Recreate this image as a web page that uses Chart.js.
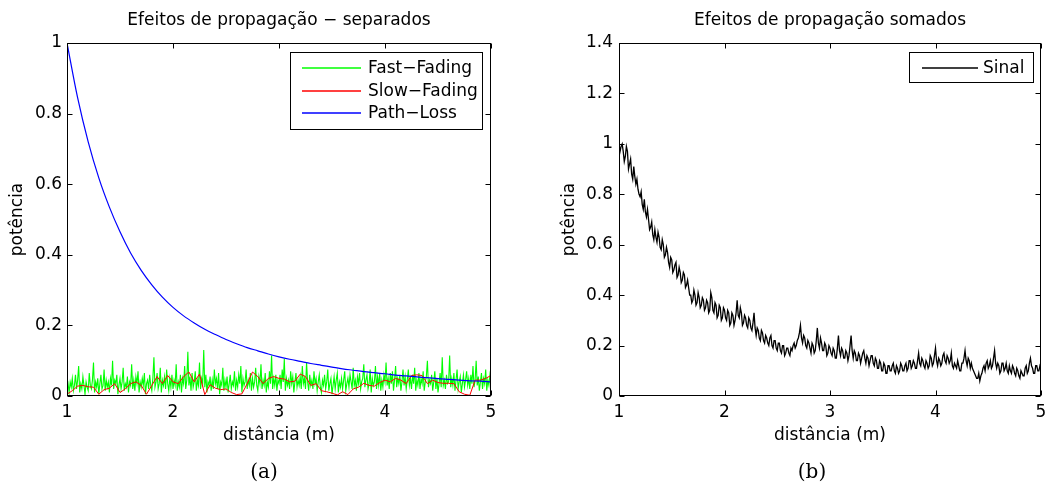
<!DOCTYPE html>
<html><head><meta charset="utf-8">
<script src="https://cdn.jsdelivr.net/npm/chart.js@4.4.0/dist/chart.umd.min.js"></script>
<style>
html,body{margin:0;padding:0;background:#fff;width:1045px;height:489px;overflow:hidden;position:relative}
canvas{position:absolute;top:0}
#c1{left:0}
#c2{left:522px}
.cap{position:absolute;top:459px;width:300px;text-align:center;font:20px 'DejaVu Serif',serif;line-height:24px;color:#000}
</style></head><body>
<canvas id="c1" width="522" height="489"></canvas>
<canvas id="c2" width="523" height="489"></canvas>
<div class="cap" style="left:114px">(a)</div>
<div class="cap" style="left:662px">(b)</div>
<script>
// ---------- data ----------
const distStart = 1;
const xTickValues = [1, 2, 3, 4, 5];
const xTickLabels = ['1', '2', '3', '4', '5'];
const yTickValuesA = [0, 0.2, 0.4, 0.6, 0.8, 1];
const yTickLabelsA = ['0', '0.2', '0.4', '0.6', '0.8', '1'];
const yTickValuesB = [0, 0.2, 0.4, 0.6, 0.8, 1, 1.2, 1.4];
const yTickLabelsB = ['0', '0.2', '0.4', '0.6', '0.8', '1', '1.2', '1.4'];

const fastStep = 0.01;
const fastFading = [
  0.02,0.035,0.01,0.04,0.025,0.05,0.015,0.03,0.06,0.02,0.045,0.085,0.01,0.035,0.02,0.055,0.03,0.005,0.04,0.025,
  0.015,0.065,0.03,0.02,0.045,0.095,0.01,0.04,0.025,0.05,0.005,0.035,0.06,0.02,0.03,0.075,0.015,0.045,0.025,0.04,
  0.01,0.05,0.03,0.1,0.02,0.045,0.035,0.06,0.005,0.03,0.05,0.02,0.04,0.08,0.015,0.035,0.025,0.055,0.01,0.04,
  0.03,0.09,0.02,0.045,0.015,0.055,0.035,0.07,0.01,0.04,0.025,0.05,0.03,0.065,0.005,0.035,0.045,0.02,0.06,0.03,
  0.015,0.05,0.11,0.025,0.04,0.065,0.02,0.035,0.08,0.01,0.045,0.03,0.055,0.02,0.075,0.035,0.015,0.05,0.025,0.06,
  0.02,0.045,0.03,0.09,0.015,0.04,0.025,0.06,0.01,0.05,0.035,0.085,0.02,0.045,0.125,0.03,0.055,0.015,0.065,0.025,
  0.04,0.07,0.015,0.045,0.03,0.095,0.02,0.05,0.035,0.13,0.025,0.06,0.01,0.04,0.03,0.055,0.015,0.045,0.02,0.075,
  0.035,0.05,0.02,0.065,0.005,0.04,0.03,0.08,0.015,0.045,0.025,0.055,0.01,0.035,0.06,0.02,0.04,0.03,0.07,0.015,
  0.045,0.025,0.06,0.035,0.085,0.01,0.05,0.03,0.04,0.075,0.02,0.045,0.03,0.065,0.015,0.05,0.025,0.04,0.08,0.03,
  0.015,0.055,0.035,0.09,0.02,0.045,0.03,0.065,0.01,0.04,0.025,0.07,0.035,0.115,0.02,0.05,0.03,0.06,0.015,0.045,
  0.035,0.06,0.02,0.075,0.04,0.105,0.015,0.05,0.03,0.045,0.02,0.07,0.035,0.055,0.01,0.04,0.065,0.025,0.045,0.03,
  0.055,0.02,0.085,0.035,0.05,0.02,0.095,0.04,0.015,0.06,0.03,0.045,0.02,0.07,0.035,0.05,0.015,0.04,0.06,0.025,
  0.01,0.045,0.03,0.06,0.02,0.04,0.075,0.015,0.035,0.05,0.005,0.03,0.055,0.02,0.045,0.065,0.01,0.04,0.025,0.05,
  0.02,0.045,0.07,0.015,0.035,0.05,0.025,0.06,0.04,0.02,0.08,0.03,0.045,0.015,0.055,0.035,0.065,0.02,0.04,0.05,
  0.09,0.025,0.045,0.06,0.02,0.035,0.075,0.01,0.05,0.03,0.04,0.085,0.02,0.055,0.03,0.065,0.015,0.045,0.025,0.06,
  0.04,0.095,0.03,0.05,0.02,0.065,0.035,0.07,0.015,0.045,0.085,0.025,0.05,0.035,0.06,0.015,0.04,0.075,0.03,0.055,
  0.02,0.045,0.075,0.03,0.05,0.02,0.06,0.035,0.08,0.015,0.045,0.03,0.065,0.02,0.05,0.035,0.07,0.015,0.04,0.055,
  0.1,0.025,0.045,0.035,0.06,0.015,0.04,0.07,0.02,0.05,0.01,0.035,0.065,0.025,0.11,0.03,0.045,0.02,0.06,0.035,
  0.04,0.115,0.025,0.05,0.03,0.065,0.015,0.045,0.075,0.02,0.04,0.055,0.01,0.035,0.06,0.025,0.045,0.07,0.03,0.05,
  0.02,0.06,0.035,0.085,0.025,0.045,0.1,0.03,0.055,0.015,0.04,0.065,0.02,0.05,0.035,0.075,0.015,0.045,0.03,0.06,
  0.04
];

const slowStep = 0.05;
const slowFading = [
  0.005,0.015,0.028,0.030,0.026,0.025,0.005,0.018,0.022,0.035,
  0.010,0.020,0.035,0.040,0.030,0.005,0.030,0.055,0.035,0.058,
  0.040,0.035,0.055,0.068,0.040,0.062,0.004,0.032,0.022,0.018,
  0.020,0.010,0.004,0.006,0.035,0.068,0.055,0.035,0.050,0.055,
  0.050,0.048,0.040,0.042,0.062,0.055,0.030,0.035,0.015,0.012,
  0.008,0.003,0.012,0.004,0.020,0.025,0.036,0.030,0.028,0.038,
  0.045,0.040,0.050,0.045,0.035,0.058,0.060,0.058,0.035,0.045,
  0.038,0.036,0.036,0.035,0.012,0.005,0.002,0.045,0.045,0.050,
  0.058
];

const pathStep = 0.1;
const pathLoss = [
  1.000,0.845,0.720,0.618,0.535,0.465,0.405,0.356,0.315,0.280,
  0.251,0.227,0.207,0.189,0.174,0.160,0.148,0.137,0.128,0.119,
  0.111,0.104,0.098,0.092,0.087,0.082,0.077,0.073,0.069,0.066,
  0.063,0.059,0.057,0.054,0.052,0.049,0.047,0.045,0.043,0.042,
  0.040
];

const sinalStep = 0.01;
const sinal = [
  1.00,0.97,0.99,1.00,0.97,0.93,0.95,0.99,0.97,0.90,0.92,0.94,0.88,0.86,0.91,0.87,0.84,0.86,0.82,0.80,
  0.79,0.81,0.76,0.74,0.78,0.73,0.71,0.74,0.70,0.66,0.67,0.69,0.64,0.62,0.66,0.63,0.61,0.65,0.63,0.59,
  0.58,0.62,0.60,0.55,0.56,0.59,0.57,0.53,0.51,0.55,0.54,0.49,0.50,0.52,0.53,0.47,0.48,0.51,0.49,0.45,
  0.46,0.49,0.48,0.43,0.44,0.46,0.43,0.40,0.40,0.37,0.38,0.42,0.40,0.36,0.37,0.41,0.39,0.35,0.36,0.39,
  0.38,0.34,0.35,0.38,0.37,0.33,0.34,0.41,0.39,0.34,0.33,0.37,0.36,0.31,0.32,0.36,0.35,0.30,0.31,0.35,
  0.34,0.31,0.30,0.34,0.33,0.28,0.29,0.33,0.32,0.28,0.30,0.33,0.38,0.32,0.31,0.35,0.33,0.28,0.29,0.32,
  0.31,0.28,0.27,0.31,0.30,0.27,0.26,0.29,0.33,0.27,0.24,0.27,0.26,0.23,0.22,0.26,0.25,0.22,0.21,0.24,
  0.23,0.21,0.20,0.23,0.24,0.20,0.19,0.22,0.22,0.19,0.18,0.21,0.21,0.18,0.17,0.20,0.20,0.16,0.17,0.19,
  0.19,0.17,0.16,0.19,0.18,0.20,0.21,0.19,0.20,0.22,0.23,0.25,0.28,0.23,0.21,0.24,0.23,0.20,0.19,0.22,
  0.21,0.19,0.17,0.21,0.20,0.17,0.18,0.22,0.27,0.21,0.19,0.23,0.21,0.18,0.18,0.21,0.20,0.16,0.17,0.20,
  0.19,0.17,0.16,0.19,0.18,0.15,0.15,0.19,0.24,0.18,0.16,0.19,0.18,0.15,0.15,0.18,0.17,0.14,0.16,0.20,
  0.24,0.18,0.15,0.18,0.17,0.14,0.14,0.17,0.16,0.13,0.15,0.17,0.18,0.15,0.13,0.16,0.15,0.12,0.14,0.16,
  0.16,0.13,0.12,0.15,0.14,0.11,0.11,0.14,0.13,0.10,0.10,0.13,0.12,0.09,0.09,0.12,0.12,0.10,0.10,0.12,
  0.13,0.10,0.09,0.12,0.11,0.09,0.10,0.13,0.12,0.10,0.10,0.12,0.13,0.10,0.11,0.14,0.14,0.11,0.12,0.14,
  0.13,0.11,0.11,0.14,0.17,0.13,0.12,0.15,0.14,0.12,0.11,0.14,0.13,0.11,0.12,0.16,0.15,0.12,0.13,0.16,
  0.19,0.14,0.12,0.15,0.14,0.12,0.13,0.16,0.17,0.14,0.13,0.16,0.15,0.13,0.14,0.17,0.12,0.11,0.13,0.12,
  0.11,0.14,0.12,0.10,0.10,0.13,0.13,0.15,0.18,0.14,0.12,0.15,0.14,0.11,0.13,0.11,0.10,0.09,0.08,0.07,
  0.07,0.09,0.06,0.08,0.09,0.11,0.12,0.10,0.13,0.14,0.11,0.12,0.14,0.11,0.12,0.15,0.18,0.13,0.11,0.13,
  0.12,0.09,0.10,0.13,0.13,0.10,0.11,0.13,0.10,0.09,0.12,0.10,0.09,0.12,0.11,0.09,0.08,0.11,0.10,0.08,
  0.07,0.10,0.09,0.08,0.08,0.11,0.12,0.09,0.10,0.13,0.15,0.12,0.11,0.09,0.09,0.12,0.12,0.10,0.10,0.12,
  0.11
];

// ---------- helpers ----------
const toXY = (arr, step) => arr.map((v, i) => ({ x: +(distStart + i * step).toFixed(4), y: v }));
const FONT = 'DejaVu Sans';
Chart.defaults.font.family = FONT;
Chart.defaults.font.size = 17;
Chart.defaults.color = '#000';

const frame = {
  id: 'frame',
  afterDatasetsDraw(chart) {
    const { ctx, chartArea: a, scales: { x, y } } = chart;
    const L = Math.round(a.left) + 0.5, R = Math.round(a.right) - 0.5;
    const T = Math.round(a.top) + 0.5, B = Math.round(a.bottom) - 0.5;
    ctx.save();
    ctx.strokeStyle = '#000';
    ctx.lineWidth = 1;
    ctx.strokeRect(L, T, R - L, B - T);
    ctx.beginPath();
    x.ticks.forEach(t => {
      const px = Math.round(x.getPixelForValue(t.value)) + 0.5;
      ctx.moveTo(px, B); ctx.lineTo(px, B - 5);
      ctx.moveTo(px, T); ctx.lineTo(px, T + 5);
    });
    y.ticks.forEach(t => {
      const py = Math.round(y.getPixelForValue(t.value)) + 0.5;
      ctx.moveTo(L, py); ctx.lineTo(L + 5, py);
      ctx.moveTo(R, py); ctx.lineTo(R - 5, py);
    });
    ctx.stroke();
    ctx.restore();
  }
};

function makeLegend(items, o) {
  return {
    id: 'boxLegend',
    afterDraw(chart) {
      const { ctx, chartArea: a } = chart;
      const x0 = Math.round(a.right - o.dr - o.w);
      const y0 = Math.round(a.top + o.dt);
      ctx.save();
      ctx.fillStyle = '#ffffff';
      ctx.fillRect(x0, y0, o.w, o.h);
      ctx.strokeStyle = '#000000';
      ctx.lineWidth = 1;
      ctx.strokeRect(x0 + 0.5, y0 + 0.5, o.w, o.h);
      items.forEach((it, i) => {
        const cy = Math.round(a.top + o.firstRow + i * o.rowH);
        ctx.beginPath();
        ctx.strokeStyle = it.color;
        ctx.lineWidth = 1.6;
        ctx.moveTo(x0 + o.lineX, cy);
        ctx.lineTo(x0 + o.lineX + o.lineLen, cy);
        ctx.stroke();
      });
      ctx.font = '17px "' + FONT + '"';
      ctx.textBaseline = 'middle';
      ctx.textAlign = 'left';
      ctx.fillStyle = '#000000';
      items.forEach((it, i) => {
        const cy = Math.round(a.top + o.firstRow + i * o.rowH) + 0.5;
        ctx.fillText(it.label, x0 + o.textX, cy);
      });
      ctx.restore();
    }
  };
}

function makeOptions(cfg) {
  return {
    responsive: false,
    animation: false,
    devicePixelRatio: 1,
    events: [],
    layout: { padding: { left: 0, top: 0, right: cfg.padRight, bottom: 0 } },
    plugins: {
      legend: { display: false },
      tooltip: { enabled: false },
      title: {
        display: true,
        fullSize: false,
        text: cfg.title,
        font: { size: 17, weight: 'normal', family: FONT },
        color: '#000',
        padding: { top: 10.8, bottom: 11.8 }
      }
    },
    scales: {
      x: {
        type: 'linear',
        min: 1, max: 5,
        afterBuildTicks: s => { s.ticks = xTickValues.map(v => ({ value: v })); },
        afterFit: s => { s.height = 93; s.paddingRight = 0; s.paddingLeft = 0; },
        grid: { display: false, drawTicks: false },
        border: { display: false },
        ticks: { padding: 6, maxRotation: 0, autoSkip: false, callback: (v, i) => xTickLabels[i] },
        title: { display: true, text: 'distância (m)', padding: { top: 0, bottom: 42.8 } }
      },
      y: {
        type: 'linear',
        min: 0, max: cfg.yMax,
        afterBuildTicks: s => { s.ticks = cfg.yTicks.map(v => ({ value: v })); },
        afterFit: s => { s.width = cfg.yWidth; },
        grid: { display: false, drawTicks: false },
        border: { display: false },
        ticks: { padding: cfg.yTickPad, autoSkip: false, callback: (v, i) => cfg.yLabels[i] },
        title: { display: true, text: 'potência', padding: { top: cfg.yTitlePad, bottom: 0 } }
      }
    }
  };
}

const seriesA = [
  { label: 'Fast−Fading', color: '#00ff00' },
  { label: 'Slow−Fading', color: '#ff0000' },
  { label: 'Path−Loss', color: '#0000ff' }
];
const seriesB = [{ label: 'Sinal', color: '#000000' }];

new Chart(document.getElementById('c1'), {
  type: 'line',
  data: {
    datasets: [
      { label: seriesA[0].label, data: toXY(fastFading, fastStep), borderColor: seriesA[0].color, borderWidth: 1.1, pointRadius: 0, tension: 0, order: 3 },
      { label: seriesA[1].label, data: toXY(slowFading, slowStep), borderColor: seriesA[1].color, borderWidth: 1, pointRadius: 0, tension: 0, order: 2 },
      { label: seriesA[2].label, data: toXY(pathLoss, pathStep), borderColor: seriesA[2].color, borderWidth: 1.2, pointRadius: 0, cubicInterpolationMode: 'monotone', order: 1 }
    ]
  },
  options: makeOptions({
    title: 'Efeitos de propagação − separados',
    padRight: 31, yMax: 1, yTicks: yTickValuesA, yLabels: yTickLabelsA, yWidth: 67, yTickPad: 5, yTitlePad: 7.8
  }),
  plugins: [frame, makeLegend(seriesA, { w: 192, h: 77, dr: 9, dt: 9, firstRow: 25, rowH: 22.5, lineX: 12, lineLen: 59, textX: 78 })]
});

new Chart(document.getElementById('c2'), {
  type: 'line',
  data: {
    datasets: [
      { label: seriesB[0].label, data: toXY(sinal, sinalStep), borderColor: seriesB[0].color, borderWidth: 1.3, pointRadius: 0, tension: 0 }
    ]
  },
  options: makeOptions({
    title: 'Efeitos de propagação somados',
    padRight: 4, yMax: 1.4, yTicks: yTickValuesB, yLabels: yTickLabelsB, yWidth: 97, yTickPad: 6, yTitlePad: 37.8
  }),
  plugins: [frame, makeLegend(seriesB, { w: 124, h: 30, dr: 8, dt: 9, firstRow: 25, rowH: 22.5, lineX: 13, lineLen: 56, textX: 74 })]
});
</script>
</body></html>
